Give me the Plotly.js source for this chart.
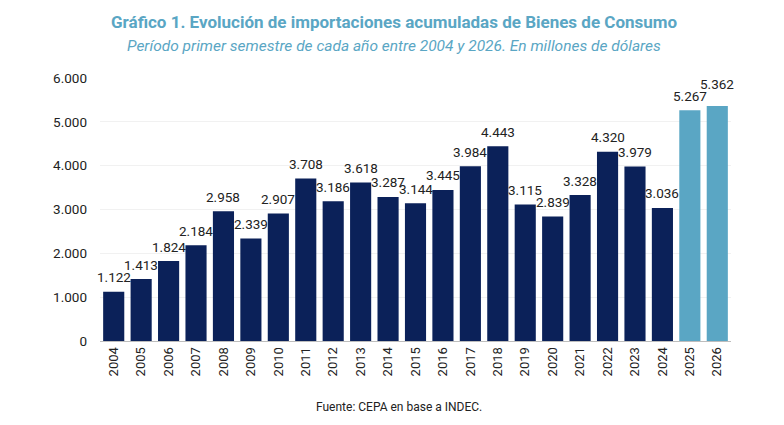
<!DOCTYPE html>
<html><head><meta charset="utf-8">
<script src="https://cdn.plot.ly/plotly-3.0.1.min.js"></script>
<style>body{margin:0;background:#fff}#c{width:784px;height:425px}</style>
</head><body><div id="c"></div>
<script>
var years = ['2004','2005','2006','2007','2008','2009','2010','2011','2012','2013','2014','2015','2016','2017','2018','2019','2020','2021','2022','2023','2024','2025','2026'];
var values = [1122,1413,1824,2184,2958,2339,2907,3708,3186,3618,3287,3144,3445,3984,4443,3115,2839,3328,4320,3979,3036,5267,5362];
var highlightYears = ['2025','2026'];
var darkColor = '#0b2159';
var lightColor = '#5aa6c4';
var colors = years.map(function(y){ return highlightYears.indexOf(y) >= 0 ? lightColor : darkColor; });

function fmt(v){ return String(v).replace(/\B(?=(\d{3})+(?!\d))/g, '.'); }

var trace = {
  type:'bar', x: years, y: values,
  marker:{color: colors, line:{width:0}},
  hoverinfo:'skip'
};

var plotH = 425-78-84, plotW = 784-100-53;
function py(p){ return (425-84-p)/plotH; }
function px(p){ return (p-100)/plotW; }

var annotations = [
  {text:'<b>Gráfico 1. Evolución de importaciones acumuladas de Bienes de Consumo</b>', xref:'paper', yref:'paper', x:px(394), y:py(22), xanchor:'center', yanchor:'middle', showarrow:false,
   font:{family:'Roboto', size:17, color:'#5aa6c4'}},
  {text:'<i>Período primer semestre de cada año entre 2004 y 2026. En millones de dólares</i>', showarrow:false, font:{family:'Roboto', size:15.5, color:'#5aa6c4'}, xref:'paper', yref:'paper', x:px(394), y:py(46), xanchor:'center', yanchor:'middle'},
  {text:'Fuente: CEPA en base a INDEC.', showarrow:false, font:{family:'Roboto', size:12, color:'#222'}, xref:'paper', yref:'paper', x:px(399), y:py(407), xanchor:'center', yanchor:'middle'}
];
years.forEach(function(y, i){
  annotations.push({
    x: i, y: values[i], xref:'x', yref:'y', text: fmt(values[i]), showarrow:false,
    xanchor:'center', yanchor:'middle', yshift: (y === '2026') ? 22 : 14.5,
    font:{family:'Roboto', size:13.5, color:'#222'}
  });
});

var layout = {
  width:784, height:425,
  margin:{l:100, r:53, t:78, b:84},
  paper_bgcolor:'#fff', plot_bgcolor:'#fff',
  separators:',.',
  bargap:0.23,
  font:{family:'Roboto', color:'#222'},
  showlegend:false,
  xaxis:{type:'category', categoryarray: years, range:[-0.5, years.length-0.5], tickangle:-90, tickfont:{size:13, color:'#222'}, showline:true, linecolor:'#bdbdbd', linewidth:1, ticks:'', showgrid:false},
  yaxis:{range:[0,6000], dtick:1000, tickformat:',', tickfont:{size:13.5, color:'#222'}, showgrid:true, gridcolor:'#f1f1f1', zeroline:false, ticks:'', ticklabelstandoff:12},
  annotations: annotations
};
Plotly.newPlot('c',[trace],layout,{displayModeBar:false, staticPlot:true});
</script></body></html>
